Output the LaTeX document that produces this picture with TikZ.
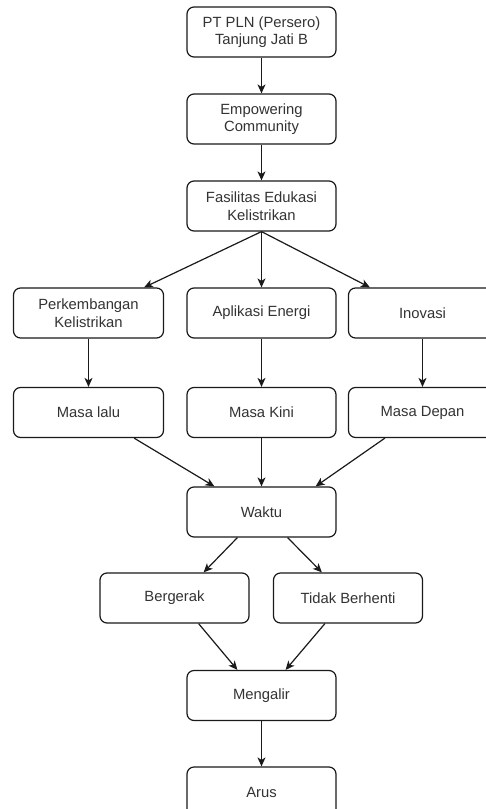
\documentclass[tikz,border=0pt]{standalone}
\usepackage{fontspec}
\setmainfont{Liberation Sans}
\usetikzlibrary{arrows.meta}
\definecolor{txt}{HTML}{333333}
\definecolor{ln}{HTML}{1A1A1A}
\tikzset{
  box/.style={draw=ln, line width=1.2pt, rounded corners=7pt, fill=white,
    minimum width=149pt, minimum height=50pt, align=center, inner sep=2pt,
    text=txt, font=\fontsize{14.8}{17.5}\selectfont},
  conn/.style={draw=ln, line width=1.2pt, -{Stealth[length=9pt, width=8pt, inset=2.5pt]}}
}
\begin{document}
\begin{tikzpicture}[x=1pt, y=-1pt]
\clip (0,0) rectangle (486,809);
\fill[white] (0,0) rectangle (486,809);
\node[box] (top)   at (261.5,32)    {PT PLN (Persero)\\Tanjung Jati B};
\node[box] (emp)   at (261.5,119)   {Empowering\\Community};
\node[box] (fas)   at (261.5,206)   {Fasilitas Edukasi\\Kelistrikan};
\node[box, minimum width=150pt] (perk) at (88.5,313)  {Perkembangan\\Kelistrikan};
\node[box] (apl)   at (261.5,313)   {Aplikasi Energi};
\node[box, minimum width=148pt] (ino)  at (422.5,313) {Inovasi};
\node[box, minimum width=150pt] (lalu) at (88.5,412.5) {Masa lalu};
\node[box] (kini)  at (261.5,412.5) {Masa Kini};
\node[box, minimum width=148pt] (depan) at (422.5,412.5) {Masa Depan};
\node[box] (waktu) at (261.5,512)   {Waktu};
\node[box] (berg)  at (174.5,598)   {Bergerak};
\node[box] (tidak) at (348,598)     {Tidak Berhenti};
\node[box] (meng)  at (261.5,695.5) {Mengalir};
\node[box] (arus)  at (261.5,792)   {Arus};

\draw[conn] (top) -- (emp);
\draw[conn] (emp) -- (fas);
\draw[conn] (fas.south) -- ([xshift=-20pt]perk.north east);
\draw[conn] (fas.south) -- (apl.north);
\draw[conn] (fas.south) -- ([xshift=22pt]ino.north west);
\draw[conn] (perk) -- (lalu);
\draw[conn] (apl) -- (kini);
\draw[conn] (ino) -- (depan);
\draw[conn] ([xshift=-30pt]lalu.south east) -- ([xshift=28pt]waktu.north west);
\draw[conn] (kini) -- (waktu);
\draw[conn] ([xshift=37pt]depan.south west) -- ([xshift=-21pt]waktu.north east);
\draw[conn] ([xshift=51pt]waktu.south west) -- ([xshift=-46pt]berg.north east);
\draw[conn] ([xshift=-49pt]waktu.south east) -- ([xshift=49pt]tidak.north west);
\draw[conn] ([xshift=-51pt]berg.south east) -- ([xshift=51pt]meng.north west);
\draw[conn] ([xshift=52pt]tidak.south west) -- ([xshift=-51pt]meng.north east);
\draw[conn] (meng) -- (arus);
\end{tikzpicture}
\end{document}
